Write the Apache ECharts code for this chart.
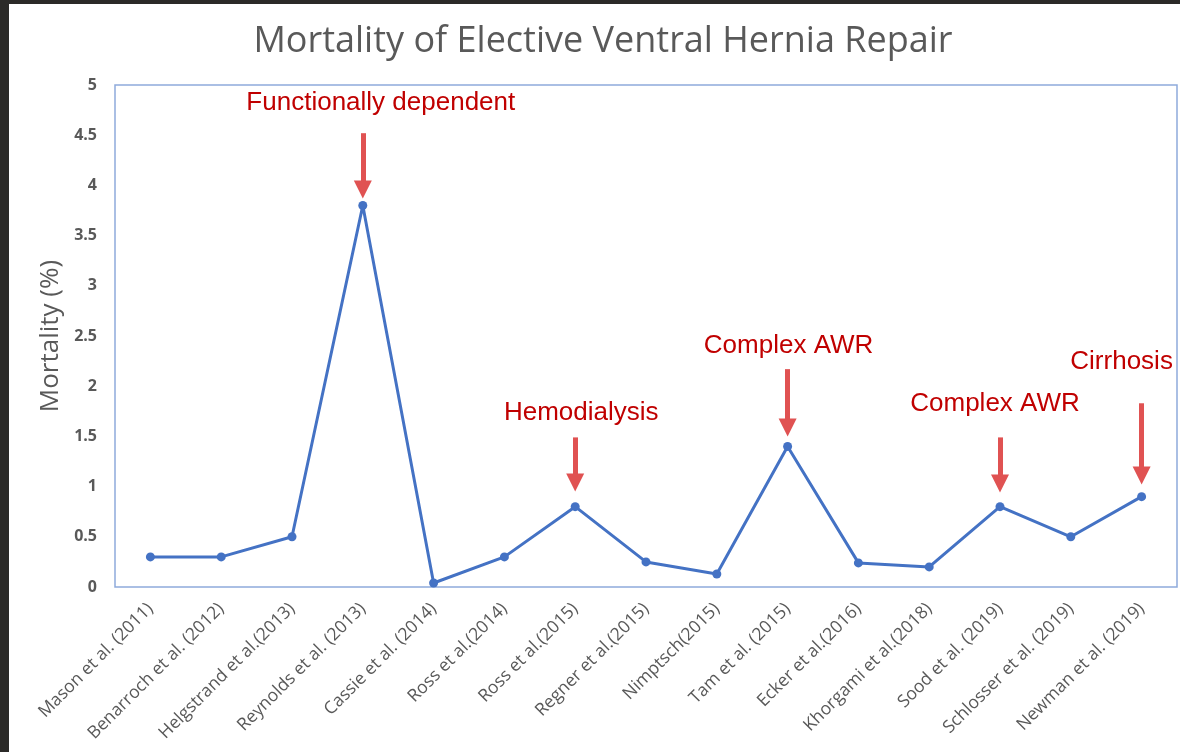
<!DOCTYPE html>
<html>
<head>
<meta charset="utf-8">
<script src="https://cdn.jsdelivr.net/npm/echarts@6/dist/echarts.min.js"></script>
<style>
  html, body { margin: 0; padding: 0; background: #ffffff; }
  #chart { width: 1180px; height: 752px; }
</style>
</head>
<body>
<div id="chart"></div>
<script>
// studies and mortality (%)
const studies = [
  "Mason et al. (2011)", "Benarroch et al. (2012)", "Helgstrand et al.(2013)",
  "Reynolds et al. (2013)", "Cassie et al. (2014)", "Ross et al.(2014)",
  "Ross et al.(2015)", "Regner et al.(2015)", "Nimptsch(2015)",
  "Tam et al. (2015)", "Ecker et al.(2016)", "Khorgami et al.(2018)",
  "Sood et al. (2019)", "Schlosser et al. (2019)", "Newman et al. (2019)"
];
const mortality = [0.3, 0.3, 0.5, 3.8, 0.04, 0.3, 0.8, 0.25, 0.13, 1.4, 0.24, 0.2, 0.8, 0.5, 0.9];

const yTicks = [0, 0.5, 1, 1.5, 2, 2.5, 3, 3.5, 4, 4.5, 5];

// annotations (arrow pointing at a study)
const noteIndex = [3, 6, 9, 12, 14];
const noteText = ["Functionally dependent", "Hemodialysis", "Complex AWR", "Complex AWR", "Cirrhosis"];
const noteTextY = [4.82, 1.73, 2.40, 1.82, 2.24];
const arrowTop = [4.52, 1.49, 2.17, 1.49, 1.83];
const arrowTip = [3.87, 0.95, 1.50, 0.94, 1.02];
const noteShift = [18, 6, 1, -5, -20];

const grey = "#595959";
const red = "#c00000";
const headSize = 18;
// plot is 502px tall for 5 units; the triangle is centred on the line end
const headPad = (headSize / 2) * 5 / 502;

const myChart = echarts.init(document.getElementById("chart"));

const option = {
  animation: false,
  backgroundColor: "#ffffff",
  graphic: [
    { type: "rect", shape: { x: 0, y: 0, width: 9, height: 752 }, style: { fill: "#2b2a28" }, z: 100 },
    { type: "rect", shape: { x: 0, y: 0, width: 1180, height: 4 }, style: { fill: "#2b2a28" }, z: 100 },
    {
      type: "text", x: 603, y: 42,
      style: {
        text: "Mortality of Elective Ventral Hernia Repair",
        fill: grey, font: "36px 'Open Sans'",
        textAlign: "center", textVerticalAlign: "middle"
      }
    }
  ],
  grid: {
    left: 115, right: 3, top: 85, bottom: 165,
    show: true, borderColor: "#8eaadb", borderWidth: 1.5
  },
  xAxis: {
    type: "category",
    data: studies,
    axisLine: { show: false },
    axisTick: { show: false },
    axisLabel: {
      interval: 0, rotate: 45, color: grey,
      fontFamily: "Open Sans", fontSize: 17.5, margin: 19
    }
  },
  yAxis: {
    type: "value",
    min: 0, max: 5, interval: 0.5,
    name: "Mortality (%)",
    nameLocation: "middle",
    nameGap: 46,
    nameTextStyle: { color: grey, fontFamily: "Open Sans", fontSize: 26 },
    axisLine: { show: false },
    axisTick: { show: false },
    splitLine: { show: false },
    axisLabel: {
      color: grey, fontFamily: "Open Sans", fontWeight: "bold", fontSize: 16, margin: 18,
      formatter: (v) => (yTicks.includes(v) ? String(v) : "")
    }
  },
  series: [
    {
      type: "line",
      data: mortality,
      symbol: "circle",
      symbolSize: 9,
      lineStyle: { color: "#4472c4", width: 3 },
      itemStyle: { color: "#4472c4" },
      silent: true,
      markLine: {
        silent: true,
        symbol: ["none", "triangle"],
        symbolSize: headSize,
        lineStyle: { color: "#e05252", width: 5, type: "solid" },
        itemStyle: { color: "#e05252" },
        label: { show: false },
        data: noteIndex.map((idx, i) => [
          { coord: [idx, arrowTop[i]] },
          { coord: [idx, arrowTip[i] + headPad] }
        ])
      },
      markPoint: {
        silent: true,
        symbol: "circle",
        symbolSize: 1,
        itemStyle: { color: "rgba(0,0,0,0)" },
        label: {
          show: true, position: "inside", color: red,
          fontFamily: "Liberation Sans", fontSize: 26
        },
        data: noteIndex.map((idx, i) => ({
          coord: [idx, noteTextY[i]],
          label: { formatter: noteText[i], offset: [noteShift[i], 0] }
        }))
      }
    }
  ]
};

myChart.setOption(option);
</script>
</body>
</html>
